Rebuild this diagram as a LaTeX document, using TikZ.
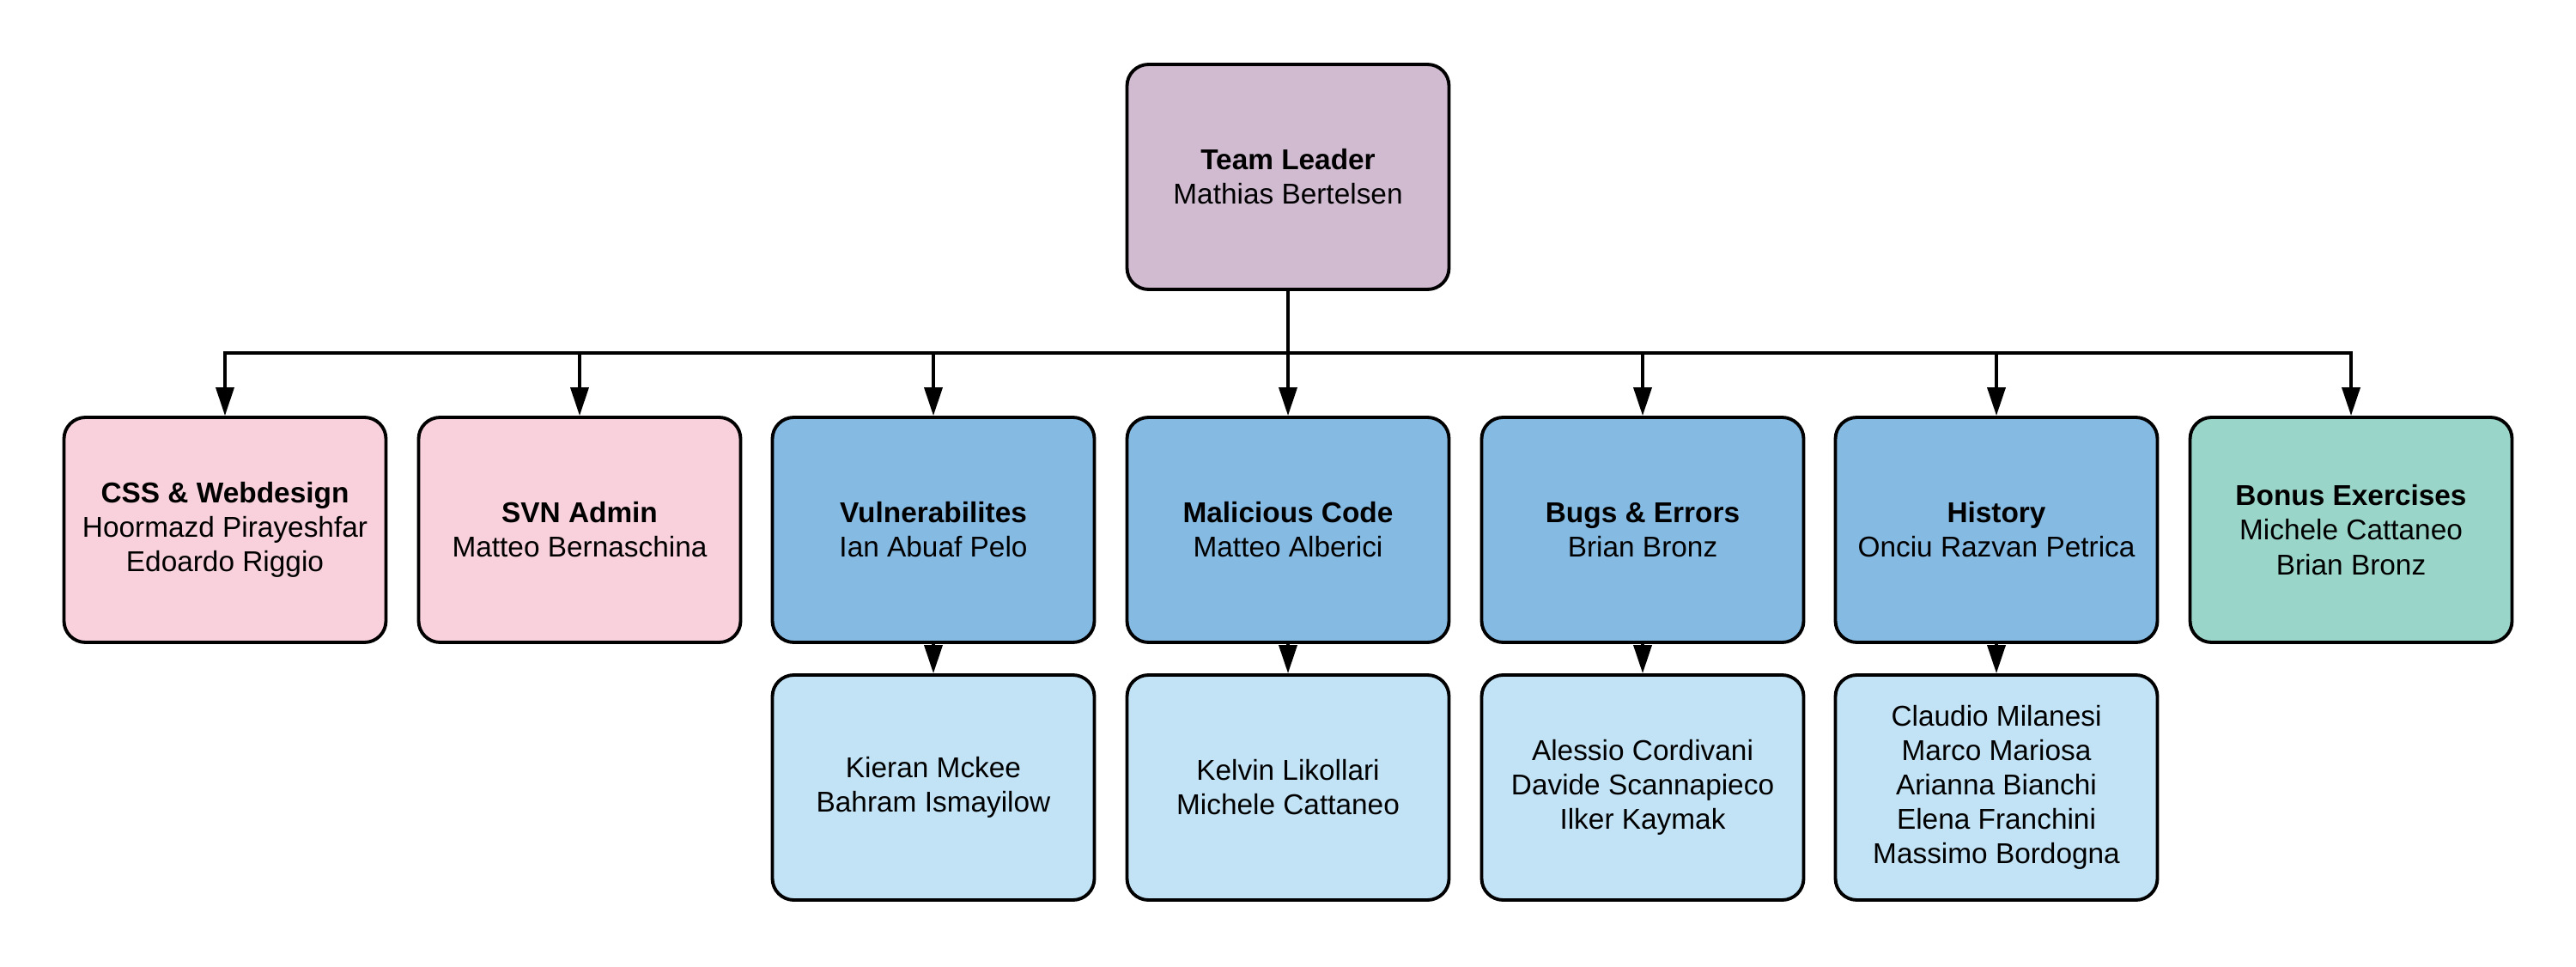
\documentclass[tikz,border=0pt]{standalone}
\usepackage{fontspec}
\setmainfont{Liberation Sans}
\usetikzlibrary{arrows.meta}
\definecolor{cpurple}{HTML}{D1BBD1}
\definecolor{cpink}{HTML}{F8D1DC}
\definecolor{cblue}{HTML}{85BAE2}
\definecolor{clight}{HTML}{C2E3F5}
\definecolor{cgreen}{HTML}{9AD5C9}
\tikzset{
  card/.style={draw=black, line width=1.1pt, rounded corners=0.25cm,
    minimum width=3.75cm, minimum height=2.62cm, inner sep=0pt,
    align=center, font=\fontsize{9.5pt}{11.4pt}\selectfont},
  conn/.style={line width=1.05pt, draw=black},
  arr/.style={conn, -{Triangle[length=0.33cm,width=0.21cm]}}
}
\begin{document}
\begin{tikzpicture}
\useasboundingbox (0,0) rectangle (30,11.25);
\node[card, fill=cpurple] (tl) at (15.00,9.19) {\textbf{Team Leader}\\Mathias Bertelsen};
\node[card, fill=cpink] (css) at (2.62,5.08) {\textbf{CSS \& Webdesign}\\Hoormazd Pirayeshfar\\Edoardo Riggio};
\node[card, fill=cpink] (svn) at (6.75,5.08) {\textbf{SVN Admin}\\Matteo Bernaschina};
\node[card, fill=cblue] (vul) at (10.87,5.08) {\textbf{Vulnerabilites}\\Ian Abuaf Pelo};
\node[card, fill=cblue] (mal) at (15.00,5.08) {\textbf{Malicious Code}\\Matteo Alberici};
\node[card, fill=cblue] (bug) at (19.13,5.08) {\textbf{Bugs \& Errors}\\Brian Bronz};
\node[card, fill=cblue] (his) at (23.25,5.08) {\textbf{History}\\Onciu Razvan Petrica};
\node[card, fill=cgreen] (bon) at (27.38,5.08) {\textbf{Bonus Exercises}\\Michele Cattaneo\\Brian Bronz};
\node[card, fill=clight] (vul2) at (10.87,2.08) {Kieran Mckee\\Bahram Ismayilow};
\node[card, fill=clight] (mal2) at (15.00,2.08) {Kelvin Likollari\\Michele Cattaneo};
\node[card, fill=clight] (bug2) at (19.13,2.08) {Alessio Cordivani\\Davide Scannapieco\\Ilker Kaymak};
\node[card, fill=clight] (his2) at (23.25,2.08) {Claudio Milanesi\\Marco Mariosa\\Arianna Bianchi\\Elena Franchini\\Massimo Bordogna};
\coordinate (bus) at (15.00,7.14);
\draw[conn] (tl.south) -- (bus);
\foreach \n in {css,svn,vul,mal,bug,his,bon}{
  \draw[arr] (bus) -| (\n.north);
}
\draw[arr] (vul.south) -- (vul2.north);
\draw[arr] (mal.south) -- (mal2.north);
\draw[arr] (bug.south) -- (bug2.north);
\draw[arr] (his.south) -- (his2.north);
\end{tikzpicture}
\end{document}
